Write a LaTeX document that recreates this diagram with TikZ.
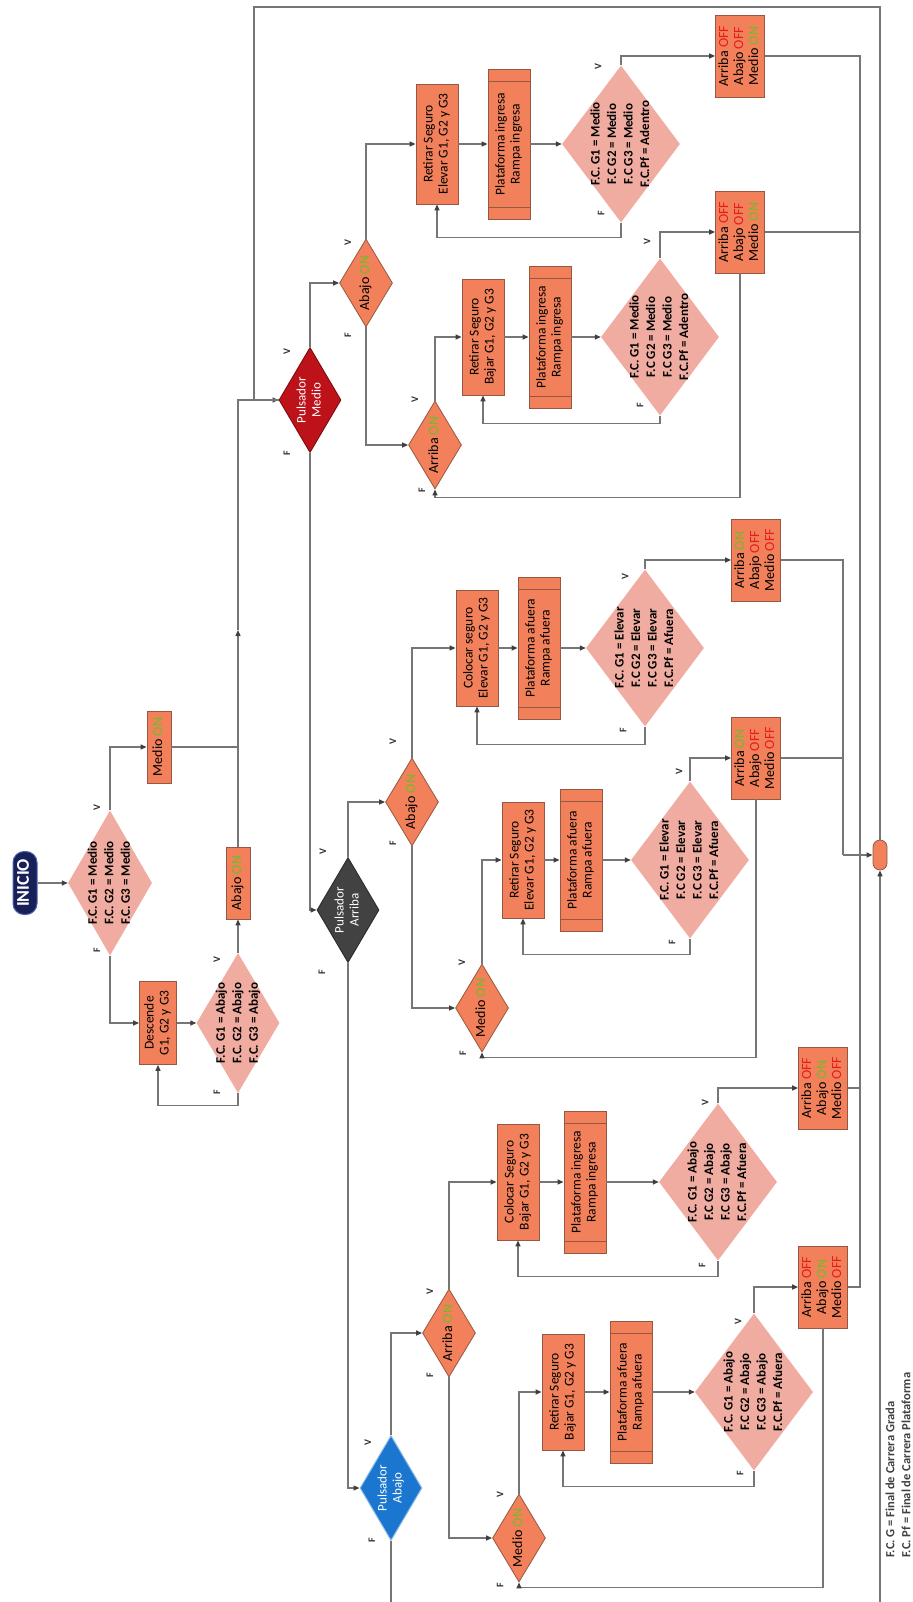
\documentclass[tikz,border=0pt]{standalone}
\usepackage{fontspec}
\setmainfont{Carlito}
\usepackage{graphicx}
\usetikzlibrary{shapes.geometric, arrows.meta, calc}
\definecolor{procfill}{RGB}{242,128,90}
\definecolor{procline}{RGB}{150,88,66}
\definecolor{condfill}{RGB}{240,172,160}
\definecolor{pmediofill}{RGB}{190,18,26}
\definecolor{parribafill}{RGB}{66,66,66}
\definecolor{pabajofill}{RGB}{26,118,206}
\definecolor{iniciofill}{RGB}{24,32,88}
\definecolor{inicioline}{RGB}{80,96,170}
\definecolor{ongreen}{RGB}{110,190,40}
\definecolor{offred}{RGB}{232,28,28}
\definecolor{wire}{RGB}{118,118,118}

% rotated multi-line text (reads bottom to top)
\newcommand{\vtxt}[2][c]{\rotatebox{90}{\begin{tabular}{@{}#1@{}}#2\end{tabular}}}
\def\son{\textcolor{ongreen}{ON}}
\def\soff{\textcolor{offred}{OFF}}

\begin{document}
\begin{tikzpicture}[
        x=1pt, y=-1pt,
        proc/.style={draw=procline, fill=procfill, line width=0.8pt, inner sep=0pt,
                     minimum width=42pt, minimum height=116pt,
                     font=\fontsize{13.5}{15}\selectfont},
        prebox/.style={proc, minimum height=142pt,
                       path picture={\draw[procline, line width=0.8pt]
                         ([yshift=-12pt]path picture bounding box.north west) -- ([yshift=-12pt]path picture bounding box.north east)
                         ([yshift=12pt]path picture bounding box.south west) -- ([yshift=12pt]path picture bounding box.south east);}},
        statebox/.style={proc, minimum width=49pt, minimum height=82pt,
                         font=\fontsize{14}{15}\selectfont},
        flagbox/.style={proc, minimum width=24pt, minimum height=72pt,
                        font=\fontsize{14}{16}\selectfont},
        conddia/.style={diamond, aspect=0.75, fill=condfill, inner sep=-8pt,
                        minimum width=118pt, minimum height=157pt,
                        font=\bfseries\fontsize{13}{16.5}\selectfont},
        ondia/.style={diamond, aspect=0.6, draw=procline, fill=procfill, line width=0.8pt,
                      inner sep=-2pt, minimum width=53pt, minimum height=88pt,
                      font=\fontsize{14}{16}\selectfont},
        pulsador/.style={diamond, aspect=0.6, inner sep=0pt, line width=1pt,
                         minimum width=62pt, minimum height=105pt, text=white,
                         font=\fontsize{13}{15}\selectfont},
        terminal/.style={rectangle, rounded corners=11pt, draw=inicioline, line width=1pt,
                         fill=iniciofill, text=white, inner sep=0pt,
                         minimum width=24pt, minimum height=63pt,
                         font=\bfseries\fontsize{18}{20}\selectfont},
        vflabel/.style={rotate=90, inner sep=0pt, text=black!80,
                        font=\bfseries\fontsize{10}{11}\selectfont},
        legendtext/.style={inner sep=0pt, text=black!75,
                           font=\bfseries\fontsize{12.5}{16}\selectfont},
        wireline/.style={wire, line width=1.3pt},
        arrow/.style={wireline, -{Triangle[length=6pt,width=5pt,color=black!75]}},
    ]

    \useasboundingbox (0,0) rectangle (912,1602);

    % ---------- start: bring the ramps to the middle ------------------------
    \node[terminal] (inicio) at (25,883) {\vtxt{INICIO}};
    \node[conddia, minimum width=84pt, minimum height=145pt, aspect=0.58] (d0) at (110,883)
        {\vtxt{F.C. G1 = Medio\\F.C. G2 = Medio\\F.C. G3 = Medio}};
    \node[flagbox] (medioon) at (159,747) {\vtxt{Medio \son}};
    \node[proc, minimum width=37pt, minimum height=83pt] (descende) at (158,1023) {\vtxt{Descende\\G1, G2 y G3}};
    \node[conddia, minimum width=83pt, minimum height=140pt, aspect=0.59] (d1) at (238,1023)
        {\vtxt{F.C. G1 = Abajo\\F.C. G2 = Abajo\\F.C. G3 = Abajo}};
    \node[flagbox] (abajoon) at (238,883) {\vtxt{Abajo \son}};

    % ---------- Pulsador Medio ----------------------------------------------
    \node[pulsador, fill=pmediofill, draw=pmediofill!70!black] (pmedio) at (310,400) {\vtxt{Pulsador\\Medio}};
    \node[ondia] (m-abajo) at (366,283) {\vtxt{Abajo \son}};
    \node[proc, minimum height=120pt] (m-ret1) at (437,144) {\vtxt{Retirar Seguro\\Elevar G1, G2 y G3}};
    \node[prebox, minimum height=150pt] (m-pla1) at (509,144) {\vtxt{Plataforma ingresa\\Rampa ingresa}};
    \node[conddia] (m-fc1) at (621,144) {\vtxt{F.C. G1 = Medio\\F.C G2 = Medio\\F.C G3 = Medio\\F.C.Pf = Adentro}};
    \node[statebox] (m-st1) at (740,56) {\vtxt{Arriba \soff\\Abajo \soff\\Medio \son}};

    \node[ondia] (m-arriba) at (435,445) {\vtxt{Arriba \son}};
    \node[proc] (m-ret2) at (483,337) {\vtxt{Retirar Seguro\\Bajar G1, G2 y G3}};
    \node[prebox] (m-pla2) at (550,337) {\vtxt{Plataforma ingresa\\Rampa ingresa}};
    \node[conddia] (m-fc2) at (660,337) {\vtxt{F.C. G1 = Medio\\F.C G2 = Medio\\F.C G3 = Medio\\F.C.Pf = Adentro}};
    \node[statebox] (m-st2) at (740,232) {\vtxt{Arriba \soff\\Abajo \soff\\Medio \son}};

    % ---------- Pulsador Arriba ---------------------------------------------
    \node[pulsador, fill=parribafill, draw=parribafill!70!black] (parriba) at (348,910) {\vtxt{Pulsador\\Arriba}};
    \node[ondia] (a-abajo) at (412,802) {\vtxt{Abajo \son}};
    \node[proc] (a-col) at (477,648) {\vtxt{Colocar seguro\\Elevar G1, G2 y G3}};
    \node[prebox] (a-pla1) at (539,648) {\vtxt{Plataforma afuera\\Rampa afuera}};
    \node[conddia] (a-fc1) at (645,648) {\vtxt{F.C. G1 = Elevar\\F.C G2 = Elevar\\F.C G3 = Elevar\\F.C.Pf = Afuera}};
    \node[statebox] (a-st1) at (756,560) {\vtxt{Arriba \son\\Abajo \soff\\Medio \soff}};

    \node[ondia] (a-medio) at (482,1008) {\vtxt{Medio \son}};
    \node[proc] (a-ret) at (523,860) {\vtxt{Retirar Seguro\\Elevar G1, G2 y G3}};
    \node[prebox] (a-pla2) at (581,860) {\vtxt{Plataforma afuera\\Rampa afuera}};
    \node[conddia] (a-fc2) at (690,860) {\vtxt{F.C. G1 = Elevar\\F.C G2 = Elevar\\F.C G3 = Elevar\\F.C.Pf = Afuera}};
    \node[statebox] (a-st2) at (756,758) {\vtxt{Arriba \son\\Abajo \soff\\Medio \soff}};

    % ---------- Pulsador Abajo ----------------------------------------------
    \node[pulsador, fill=pabajofill, draw=pabajofill!50!white] (pabajo) at (391,1488) {\vtxt{Pulsador\\Abajo}};
    \node[ondia] (b-arriba) at (449,1333) {\vtxt{Arriba \son}};
    \node[proc] (b-col) at (518,1182) {\vtxt{Colocar Seguro\\Bajar G1, G2 y G3}};
    \node[prebox] (b-pla1) at (585,1182) {\vtxt{Plataforma ingresa\\Rampa ingresa}};
    \node[conddia] (b-fc1) at (718,1182) {\vtxt{F.C. G1 = Abajo\\F.C G2 = Abajo\\F.C G3 = Abajo\\F.C.Pf = Afuera}};
    \node[statebox] (b-st1) at (823,1088) {\vtxt{Arriba \soff\\Abajo \son\\Medio \soff}};

    \node[ondia] (b-medio) at (519,1538) {\vtxt{Medio \son}};
    \node[proc] (b-ret) at (563,1392) {\vtxt{Retirar Seguro\\Bajar G1, G2 y G3}};
    \node[prebox] (b-pla2) at (631,1392) {\vtxt{Plataforma afuera\\Rampa afuera}};
    \node[conddia] (b-fc2) at (754,1392) {\vtxt{F.C. G1 = Abajo\\F.C G2 = Abajo\\F.C G3 = Abajo\\F.C.Pf = Afuera}};
    \node[statebox] (b-st2) at (823,1287) {\vtxt{Arriba \soff\\Abajo \son\\Medio \soff}};

    % connector where every branch ends
    \node[proc, minimum width=14pt, minimum height=30pt, rounded corners=7pt] (fin) at (880,855) {};

    % ---------- V / F labels -------------------------------------------------
    \foreach \x/\y [count=\i] in {97/808, 217/960, 287/352, 348/243, 598/67, 647/242, 415/400,
                                  323/852, 393/742, 625/577, 462/963, 679/772,
                                  368/1443, 430/1292, 500/1495, 705/1103, 738/1322}
        \node[vflabel] (v\i) at (\x,\y) {V};
    \foreach \x/\y [count=\i] in {97/950, 217/1092, 287/453, 348/335, 601/213, 640/405, 422/490,
                                  322/972, 393/843, 623/730, 463/1053, 672/942,
                                  372/1540, 430/1375, 500/1585, 702/1265, 740/1473}
        \node[vflabel] (f\i) at (\x,\y) {F};

    \node[legendtext, anchor=south west] (legend) at (883,1558)
        {\vtxt[l]{F.C. G = Final de Carrera Grada\\F.C. Pf = Final de Carrera Plataforma}};

    % ---------- start connectors ---------------------------------------------
    \draw[arrow] (inicio) -- (d0);
    \draw[arrow] (d0.north) |- (medioon.west);
    \draw[arrow] (d0.south) |- (descende.west);
    \draw[arrow] (descende) -- (d1);
    \draw[arrow] (d1.south) -- ++(0,12) -| (descende.south);
    \draw[arrow] (d1) -- (abajoon);
    \draw[wireline] (medioon.east) -- (medioon.east -| abajoon.north);
    \coordinate (trunkmid) at (238,630);
    \draw[arrow] (abajoon.north) -- (trunkmid);
    \draw[arrow] (trunkmid) |- (pmedio.west);

    % ---------- Pulsador Medio connectors ------------------------------------
    \draw[arrow] (pmedio.north) |- (m-abajo.west);
    \draw[arrow] (m-abajo.north) |- (m-ret1.west);
    \draw[arrow] (m-ret1) -- (m-pla1);
    \draw[arrow] (m-pla1) -- (m-fc1);
    \draw[arrow] (m-fc1.north) |- (m-st1.west);
    \draw[arrow] (m-fc1.south) -- ++(0,15) -| (m-ret1.south);
    \draw[arrow] (m-abajo.south) |- (m-arriba.west);
    \draw[arrow] (m-arriba.north) |- (m-ret2.west);
    \draw[arrow] (m-ret2) -- (m-pla2);
    \draw[arrow] (m-pla2) -- (m-fc2);
    \draw[arrow] (m-fc2.north) |- (m-st2.west);
    \draw[arrow] (m-fc2.south) -- ++(0,8) -| (m-ret2.south);
    \draw[arrow] (m-st2.south) |- ([yshift=-8pt]m-arriba.south) -- (m-arriba.south);

    % ---------- Pulsador Arriba connectors -----------------------------------
    \draw[arrow] (pmedio.south) |- (parriba.west);
    \draw[arrow] (parriba.north) |- (a-abajo.west);
    \draw[arrow] (a-abajo.north) |- (a-col.west);
    \draw[arrow] (a-col) -- (a-pla1);
    \draw[arrow] (a-pla1) -- (a-fc1);
    \draw[arrow] (a-fc1.north) |- (a-st1.west);
    \draw[arrow] (a-fc1.south) -- ++(0,18) -| (a-col.south);
    \draw[arrow] (a-abajo.south) |- (a-medio.west);
    \draw[arrow] (a-medio.north) |- (a-ret.west);
    \draw[arrow] (a-ret) -- (a-pla2);
    \draw[arrow] (a-pla2) -- (a-fc2);
    \draw[arrow] (a-fc2.north) |- (a-st2.west);
    \draw[arrow] (a-fc2.south) -- ++(0,16) -| (a-ret.south);
    \draw[arrow] (a-st2.south) |- ([yshift=-5pt]a-medio.south) -- (a-medio.south);

    % ---------- Pulsador Abajo connectors ------------------------------------
    \draw[arrow] (parriba.south) |- (pabajo.west);
    \draw[arrow] (pabajo.north) |- (b-arriba.west);
    \draw[arrow] (b-arriba.north) |- (b-col.west);
    \draw[arrow] (b-col) -- (b-pla1);
    \draw[arrow] (b-pla1) -- (b-fc1);
    \draw[arrow] (b-fc1.north) |- (b-st1.west);
    \draw[arrow] (b-fc1.south) -- ++(0,16) -| (b-col.south);
    \draw[arrow] (b-arriba.south) |- (b-medio.west);
    \draw[arrow] (b-medio.north) |- (b-ret.west);
    \draw[arrow] (b-ret) -- (b-pla2);
    \draw[arrow] (b-pla2) -- (b-fc2);
    \draw[arrow] (b-fc2.north) |- (b-st2.west);
    \draw[arrow] (b-fc2.south) -- ++(0,16) -| (b-ret.south);
    \draw[arrow] (b-st2.south) |- ([yshift=-5pt]b-medio.south) -- (b-medio.south);

    % ---------- state boxes -> end connector -> back to Pulsador Medio ------
    \coordinate (jm) at (860,855);
    \coordinate (ja) at (843,855);
    \draw[wireline] (m-st1.east) -| (jm);
    \draw[wireline] (m-st2.east) -- (m-st2.east -| jm);
    \draw[wireline] (b-st2.east) -| (jm);
    \draw[wireline] (b-st1.east) -- (b-st1.east -| jm);
    \draw[wireline] (a-st1.east) -| (ja);
    \draw[wireline] (a-st2.east) -- (a-st2.east -| ja);
    \draw[arrow] (ja) -- (fin.west);

    \coordinate (bottomturn) at (880,1608);
    \draw[arrow] (pabajo.south) |- (bottomturn) -- (fin.south);

    \coordinate (looptop) at (254,7);
    \draw[wireline] (fin.north) |- (looptop) |- (pmedio.west);

\end{tikzpicture}
\end{document}
